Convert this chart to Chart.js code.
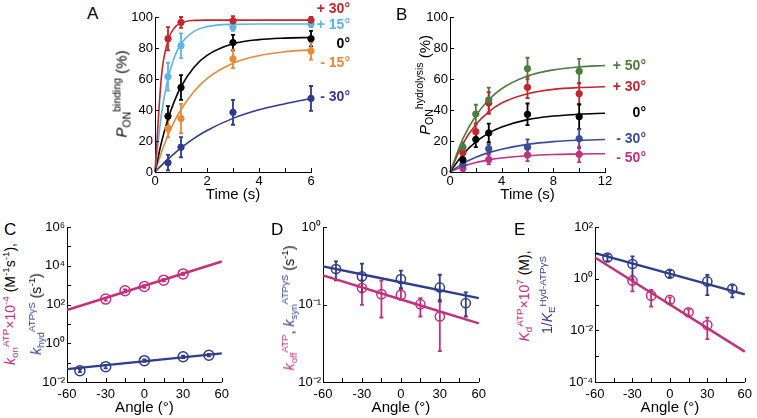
<!DOCTYPE html>
<html>
<head>
<meta charset="utf-8">
<script src="https://cdn.jsdelivr.net/npm/chart.js@4.4.1/dist/chart.umd.min.js"></script>
<style>
  body { margin: 0; background: #fff; }
  #fig { position: relative; width: 757px; height: 418px; overflow: hidden;
         font-family: "Liberation Sans", Arial, sans-serif; color: #000; }
  .panel { position: absolute; }
  .panel canvas { display: block; }
  .lbl { position: absolute; font-size: 17px; line-height: 1; }
  .leg { position: absolute; font-size: 14px; font-weight: bold; line-height: 1; white-space: nowrap; }
  .yt { position: absolute; white-space: nowrap; line-height: 1; font-size: 14px;
        transform: translate(-50%, -50%) rotate(-90deg); }
  .yt sub { font-size: 0.7em; vertical-align: -0.35em; line-height: 0; }
  .yt sup { font-size: 0.7em; vertical-align: 0.6em; line-height: 0; }
</style>
</head>
<body>
<div id="fig">
  <div class="panel" id="wA"><canvas id="cA"></canvas></div>
  <div class="panel" id="wB"><canvas id="cB"></canvas></div>
  <div class="panel" id="wC"><canvas id="cC"></canvas></div>
  <div class="panel" id="wD"><canvas id="cD"></canvas></div>
  <div class="panel" id="wE"><canvas id="cE"></canvas></div>

  <div class="lbl" style="left:87px;top:5px">A</div>
  <div class="lbl" style="left:396px;top:6px">B</div>
  <div class="lbl" style="left:4px;top:221px">C</div>
  <div class="lbl" style="left:271px;top:221px">D</div>
  <div class="lbl" style="left:514px;top:221px">E</div>

  <!-- panel A labels -->
  <div class="leg" style="right:407px;top:1px;color:#c1272d">+ 30°</div>
  <div class="leg" style="right:407px;top:17px;color:#5bb5e5">+ 15°</div>
  <div class="leg" style="right:407px;top:36px;color:#000">0°</div>
  <div class="leg" style="right:407px;top:55px;color:#e8893b">- 15°</div>
  <div class="leg" style="right:407px;top:89px;color:#2e3a8f">- 30°</div>
  <!-- panel B labels -->
  <div class="leg" style="right:111px;top:58px;color:#4e7b3f">+ 50°</div>
  <div class="leg" style="right:111px;top:79px;color:#c1272d">+ 30°</div>
  <div class="leg" style="right:111px;top:105px;color:#000">0°</div>
  <div class="leg" style="right:111px;top:131px;color:#3b4a9a">- 30°</div>
  <div class="leg" style="right:111px;top:150px;color:#c2307f">- 50°</div>

  <!-- axis titles -->
  <div class="yt" style="left:121px;top:94px;font-size:15px"><i>P</i><sub>ON</sub><sup>binding</sup> (%)</div>
  <div class="yt" style="left:424px;top:85px;font-size:15px"><i>P</i><sub>ON</sub><sup>hydrolysis</sup> (%)</div>
  <div class="yt" style="left:10px;top:304px"><span style="color:#c2307f"><i>k</i><sub>on</sub><sup>ATP</sup>×10<sup>-4</sup></span> (M<sup>-1</sup>s<sup>-1</sup>),</div>
  <div class="yt" style="left:36px;top:314px"><span style="color:#2f3d8c"><i>k</i><sub>hyd</sub><sup>ATPγS</sup></span> (s<sup>-1</sup>)</div>
  <div class="yt" style="left:289px;top:308px"><span style="color:#c2307f"><i>k</i><sub>off</sub><sup>ATP</sup></span>, <span style="color:#2f3d8c"><i>k</i><sub>syn</sub><sup>ATPγS</sup></span> (s<sup>-1</sup>)</div>
  <div class="yt" style="left:524px;top:296px"><span style="color:#c2307f"><i>K</i><sub>d</sub><sup>ATP</sup>×10<sup>7</sup></span> (M),</div>
  <div class="yt" style="left:547px;top:295px;color:#2f3d8c">1/<i>K</i><sub>E</sub><sup>Hyd-ATPγS</sup></div>
</div>

<script>
// colours
const RED = '#c1272d', LBLUE = '#5bb5e5', ORANGE = '#e8893b', DBLUE = '#2e3a8f';
const GREEN = '#4e7b3f', BBLUE = '#3b4a9a', MAG = '#c2307f', KBLUE = '#2f3d8c';

// ---- A: binding probability vs time ----
const timeA = [0.5, 1, 3, 6];
const bindPlus30 = [86, 96.5, 97.5, 98];
const bindPlus30Err = [7.5, 3.5, 3, 2];
const bindPlus15 = [61.5, 81.5, 93.5, 95.5];
const bindPlus15Err = [9, 8, 2.5, 2];
const bindZero = [36, 54.5, 83.5, 86];
const bindZeroErr = [6.5, 8, 5, 5];
const bindMinus15 = [28, 34.5, 73, 78];
const bindMinus15Err = [5.5, 9.5, 6, 5.5];
const bindMinus30 = [6, 16, 38.5, 47.5];
const bindMinus30Err = [5, 6.5, 8, 8];
const fitTimeA = [0, 0.25, 0.5, 0.75, 1, 1.5, 2, 3, 4, 5, 6];
const fitPlus30A = [0, 62, 84.7, 93.1, 96.2, 97.8, 98, 98, 98, 98, 98];
const fitPlus15A = [0, 37.6, 60.4, 74.2, 82.6, 90.7, 93.8, 95.3, 95.5, 95.5, 95.5];
const fitZeroA = [0, 19.2, 34.2, 45.9, 55, 67.6, 75.2, 82.7, 85.4, 86.4, 86.8];
const fitMinus15A = [0, 12.8, 23.8, 32.8, 40.3, 52, 60.3, 70.2, 75.1, 77.6, 78.8];
const fitMinus30A = [0, 4.3, 8.3, 12, 15.5, 21.7, 26.8, 34.6, 40.1, 44, 47.4];

// ---- B: hydrolysis probability vs time ----
const timeB = [1, 2, 3, 6, 10];
const timeBlow = [1, 3, 6, 10];
const hydPlus50 = [16, 37.4, 46.5, 66.7, 65];
const hydPlus50Err = [3, 6, 8, 7, 8];
const hydPlus30 = [12.5, 26, 44.5, 54.6, 50.5];
const hydPlus30Err = [3, 5, 7, 7, 7];
const hydZero = [7.8, 21, 25.2, 37.2, 35.7];
const hydZeroErr = [3, 5, 6, 7, 8];
const hydMinus30 = [4.8, 15, 16, 21.5];
const hydMinus30Err = [2, 3, 5, 6];
const hydMinus50 = [2.4, 8, 11, 11.4];
const hydMinus50Err = [2, 3, 4, 5];
const fitTimeB = [0, 1, 2, 3, 4, 6, 8, 10, 12];
const fitPlus50B = [0, 21.5, 36.3, 46.6, 53.7, 61.9, 65.9, 67.8, 68.7];
const fitPlus30B = [0, 18.3, 30.6, 38.8, 44.5, 50.5, 53.3, 54.5, 55];
const fitZeroB = [0, 11.3, 19.4, 25.1, 29, 33.8, 36.1, 37.3, 37.9];
const fitMinus30B = [0, 5.4, 9.5, 12.5, 14.7, 17.8, 19.6, 20.5, 21];
const fitMinus50B = [0, 3.5, 6.1, 7.8, 9, 10.5, 11.3, 11.6, 11.8];

// ---- C, D, E: rate constants vs angle ----
const angMag = [-30, -15, 0, 15, 30];
const angBlue = [-50, -30, 0, 30, 50];
const fitAng = [-60, 60];
const konATP = [190, 510, 850, 1800, 3800];
const konLo = [160, 430, 720, 1550, 3300];
const konHi = [220, 600, 1000, 2100, 4400];
const konFit = [52, 16600];
const khydS = [0.038, 0.062, 0.126, 0.2, 0.24];
const khydLo = [0.032, 0.05, 0.11, 0.17, 0.21];
const khydHi = [0.045, 0.076, 0.145, 0.23, 0.28];
const khydFit = [0.046, 0.30];

const koffATP = [0.163, 0.136, 0.133, 0.101, 0.07];
const koffLo = [0.099, 0.068, 0.115, 0.07, 0.025];
const koffHi = [0.205, 0.203, 0.155, 0.121, 0.115];
const koffFit = [0.237, 0.057];
const ksynS = [0.287, 0.23, 0.213, 0.166, 0.104];
const ksynLo = [0.205, 0.143, 0.163, 0.109, 0.07];
const ksynHi = [0.36, 0.336, 0.273, 0.242, 0.143];
const ksynFit = [0.31, 0.121];

const kdATP = [0.83, 0.22, 0.15, 0.05, 0.016];
const kdLo = [0.32, 0.083, 0.11, 0.038, 0.0046];
const kdHi = [1.3, 0.37, 0.19, 0.065, 0.031];
const kdFit = [6.6, 0.0015];
const invKE = [6.6, 3.7, 1.55, 0.78, 0.41];
const invKELo = [4.8, 0.9, 1.15, 0.23, 0.19];
const invKEHi = [8.5, 7.3, 2.1, 1.4, 0.55];
const invKEFit = [9.8, 0.245];

// ---- tick lists ----
const ticksTimeA = [0, 1, 2, 3, 4, 5, 6];
const labelsTimeA = ['0', '', '2', '', '4', '', '6'];
const ticksTimeB = [0, 2, 4, 6, 8, 10, 12];
const labelsTimeB = ['0', '', '4', '', '8', '', '12'];
const ticksPct = [0, 20, 40, 60, 80, 100];
const labelsPct = ['0', '20', '40', '60', '80', '100'];
const ticksAng = [-60, -45, -30, -15, 0, 15, 30, 45, 60];
const labelsAng = ['-60', '', '-30', '', '0', '', '30', '', '60'];
const ticksC = [1e-2, 1e-1, 1e0, 1e1, 1e2, 1e3, 1e4, 1e5, 1e6];
const labelsC = ['10⁻²', '', '10⁰', '', '10²', '', '10⁴', '', '10⁶'];
const ticksD = [1e-2, 1e-1, 1e0];
const labelsD = ['10⁻²', '10⁻¹', '10⁰'];
const ticksE = [1e-4, 1e-3, 1e-2, 1e-1, 1e0, 1e1, 1e2];
const labelsE = ['10⁻⁴', '', '10⁻²', '', '10⁰', '', '10²'];

Chart.defaults.font.family = '"Liberation Sans", Arial, sans-serif';
Chart.defaults.color = '#000';

// inward tick marks
const inTicks = {
  id: 'inTicks',
  afterDraw(chart) {
    const { ctx, chartArea: a, scales: { x, y } } = chart;
    ctx.save();
    ctx.strokeStyle = '#000';
    ctx.lineWidth = 1;
    ctx.beginPath();
    x.ticks.forEach(t => {
      const px = Math.round(x.getPixelForValue(t.value)) + 0.5;
      ctx.moveTo(px, a.bottom); ctx.lineTo(px, a.bottom - 4);
    });
    y.ticks.forEach(t => {
      const py = Math.round(y.getPixelForValue(t.value)) + 0.5;
      ctx.moveTo(a.left, py); ctx.lineTo(a.left + 4, py);
    });
    ctx.stroke();
    ctx.restore();
  }
};

// vertical error bars from errLo / errHi
const errorBars = {
  id: 'errorBars',
  beforeDatasetsDraw(chart) {
    const { ctx, scales: { x, y } } = chart;
    chart.data.datasets.forEach(ds => {
      if (!ds.errLo) return;
      ctx.save();
      ctx.strokeStyle = ds.borderColor;
      ctx.lineWidth = ds.errWidth || 1.6;
      ctx.beginPath();
      ds.data.forEach((p, i) => {
        const px = x.getPixelForValue(p.x);
        const y1 = y.getPixelForValue(ds.errLo[i]);
        const y2 = y.getPixelForValue(ds.errHi[i]);
        ctx.moveTo(px, y1); ctx.lineTo(px, y2);
        ctx.moveTo(px - 2, y1); ctx.lineTo(px + 2, y1);
        ctx.moveTo(px - 2, y2); ctx.lineTo(px + 2, y2);
      });
      ctx.stroke();
      ctx.restore();
    });
  }
};

function pts(xs, ys) {
  return xs.map((v, i) => ({ x: v, y: ys[i] }));
}

function curve(xs, ys, color, width) {
  return {
    data: pts(xs, ys), borderColor: color, borderWidth: width, showLine: true,
    pointRadius: 0, cubicInterpolationMode: 'monotone', clip: false, order: 2
  };
}

function dots(xs, ys, err, color) {
  return {
    data: pts(xs, ys), borderColor: color, backgroundColor: color,
    pointRadius: 3.2, pointBorderWidth: 1, showLine: false, clip: false, order: 1,
    errLo: ys.map((v, i) => v - err[i]), errHi: ys.map((v, i) => v + err[i]), errWidth: 1.8
  };
}

function rings(xs, ys, lo, hi, color, r) {
  return {
    data: pts(xs, ys), borderColor: color, backgroundColor: 'rgba(0,0,0,0)',
    pointRadius: r, pointBorderWidth: 1.5, showLine: false, clip: false, order: 1,
    errLo: lo, errHi: hi, errWidth: 1.8
  };
}

function makeChart(id, area, o) {
  const yW = o.yW, padT = 10, padR = o.padR, xH = o.xH;
  const left = area[0] - yW, top = area[1] - padT;
  const w = area[2] + padR - left, h = area[3] + xH - top;
  const wrap = document.getElementById('w' + id);
  wrap.style.left = left + 'px';
  wrap.style.top = top + 'px';
  const cv = document.getElementById('c' + id);
  cv.width = w; cv.height = h;
  cv.style.width = w + 'px'; cv.style.height = h + 'px';

  return new Chart(cv, {
    type: 'scatter',
    data: { datasets: o.datasets },
    options: {
      responsive: false, animation: false, devicePixelRatio: 1,
      layout: { padding: { left: 0, top: padT, right: padR, bottom: 0 } },
      plugins: { legend: { display: false }, tooltip: { enabled: false } },
      scales: {
        x: {
          type: 'linear', min: o.xMin, max: o.xMax,
          afterBuildTicks: s => { s.ticks = o.xTicks.map(v => ({ value: v })); },
          afterFit: s => { s.height = xH; },
          ticks: { callback: (v, i) => o.xLabels[i], font: { size: o.tickSize },
                   padding: o.xPad, maxRotation: 0, autoSkip: false },
          grid: { drawOnChartArea: false, drawTicks: false },
          border: { color: '#000', width: 1 },
          title: { display: true, text: o.xTitle, font: { size: 15 }, padding: 0 }
        },
        y: {
          type: o.yType, min: o.yMin, max: o.yMax,
          afterBuildTicks: s => { s.ticks = o.yTicks.map(v => ({ value: v })); },
          afterFit: s => { s.width = yW; },
          ticks: { callback: (v, i) => o.yLabels[i], font: { size: o.tickSize },
                   padding: 2, autoSkip: false },
          grid: { drawOnChartArea: false, drawTicks: false },
          border: { color: '#000', width: 1 }
        }
      }
    },
    plugins: [errorBars, inTicks]
  });
}

makeChart('A', [155, 17, 311, 172], {
  yW: 45, padR: 12, xH: 32, xPad: 2, tickSize: 13,
  xMin: 0, xMax: 6, xTicks: ticksTimeA, xLabels: labelsTimeA, xTitle: 'Time (s)',
  yType: 'linear', yMin: 0, yMax: 100, yTicks: ticksPct, yLabels: labelsPct,
  datasets: [
    dots(timeA, bindPlus30, bindPlus30Err, RED),
    dots(timeA, bindPlus15, bindPlus15Err, LBLUE),
    dots(timeA, bindZero, bindZeroErr, '#000'),
    dots(timeA, bindMinus15, bindMinus15Err, ORANGE),
    dots(timeA, bindMinus30, bindMinus30Err, DBLUE),
    curve(fitTimeA, fitPlus30A, RED, 1.6),
    curve(fitTimeA, fitPlus15A, LBLUE, 1.6),
    curve(fitTimeA, fitZeroA, '#000', 1.6),
    curve(fitTimeA, fitMinus15A, ORANGE, 1.6),
    curve(fitTimeA, fitMinus30A, DBLUE, 1.6)
  ]
});

makeChart('B', [450, 17, 605, 172], {
  yW: 45, padR: 12, xH: 32, xPad: 2, tickSize: 13,
  xMin: 0, xMax: 12, xTicks: ticksTimeB, xLabels: labelsTimeB, xTitle: 'Time (s)',
  yType: 'linear', yMin: 0, yMax: 100, yTicks: ticksPct, yLabels: labelsPct,
  datasets: [
    dots(timeB, hydPlus50, hydPlus50Err, GREEN),
    dots(timeB, hydPlus30, hydPlus30Err, RED),
    dots(timeB, hydZero, hydZeroErr, '#000'),
    dots(timeBlow, hydMinus30, hydMinus30Err, BBLUE),
    dots(timeBlow, hydMinus50, hydMinus50Err, MAG),
    curve(fitTimeB, fitPlus50B, GREEN, 1.6),
    curve(fitTimeB, fitPlus30B, RED, 1.6),
    curve(fitTimeB, fitZeroB, '#000', 1.6),
    curve(fitTimeB, fitMinus30B, BBLUE, 1.6),
    curve(fitTimeB, fitMinus50B, MAG, 1.6)
  ]
});

makeChart('C', [67, 227, 222, 382], {
  yW: 40, padR: 12, xH: 35, xPad: 5, tickSize: 13,
  xMin: -60, xMax: 60, xTicks: ticksAng, xLabels: labelsAng, xTitle: 'Angle (°)',
  yType: 'logarithmic', yMin: 1e-2, yMax: 1e6, yTicks: ticksC, yLabels: labelsC,
  datasets: [
    rings(angMag, konATP, konLo, konHi, MAG, 5),
    rings(angBlue, khydS, khydLo, khydHi, KBLUE, 5),
    curve(fitAng, konFit, MAG, 2.4),
    curve(fitAng, khydFit, KBLUE, 2.4)
  ]
});

makeChart('D', [323, 227, 479, 382], {
  yW: 40, padR: 12, xH: 35, xPad: 5, tickSize: 13,
  xMin: -60, xMax: 60, xTicks: ticksAng, xLabels: labelsAng, xTitle: 'Angle (°)',
  yType: 'logarithmic', yMin: 1e-2, yMax: 1e0, yTicks: ticksD, yLabels: labelsD,
  datasets: [
    rings(angMag, koffATP, koffLo, koffHi, MAG, 4.6),
    rings(angBlue, ksynS, ksynLo, ksynHi, KBLUE, 4.6),
    curve(fitAng, koffFit, MAG, 2.4),
    curve(fitAng, ksynFit, KBLUE, 2.4)
  ]
});

makeChart('E', [595, 227, 751, 382], {
  yW: 40, padR: 6, xH: 35, xPad: 5, tickSize: 13,
  xMin: -60, xMax: 60, xTicks: ticksAng, xLabels: labelsAng, xTitle: 'Angle (°)',
  yType: 'logarithmic', yMin: 1e-4, yMax: 1e2, yTicks: ticksE, yLabels: labelsE,
  datasets: [
    rings(angMag, kdATP, kdLo, kdHi, MAG, 4.6),
    rings(angBlue, invKE, invKELo, invKEHi, KBLUE, 4.6),
    curve(fitAng, kdFit, MAG, 2.4),
    curve(fitAng, invKEFit, KBLUE, 2.4)
  ]
});
</script>
</body>
</html>
